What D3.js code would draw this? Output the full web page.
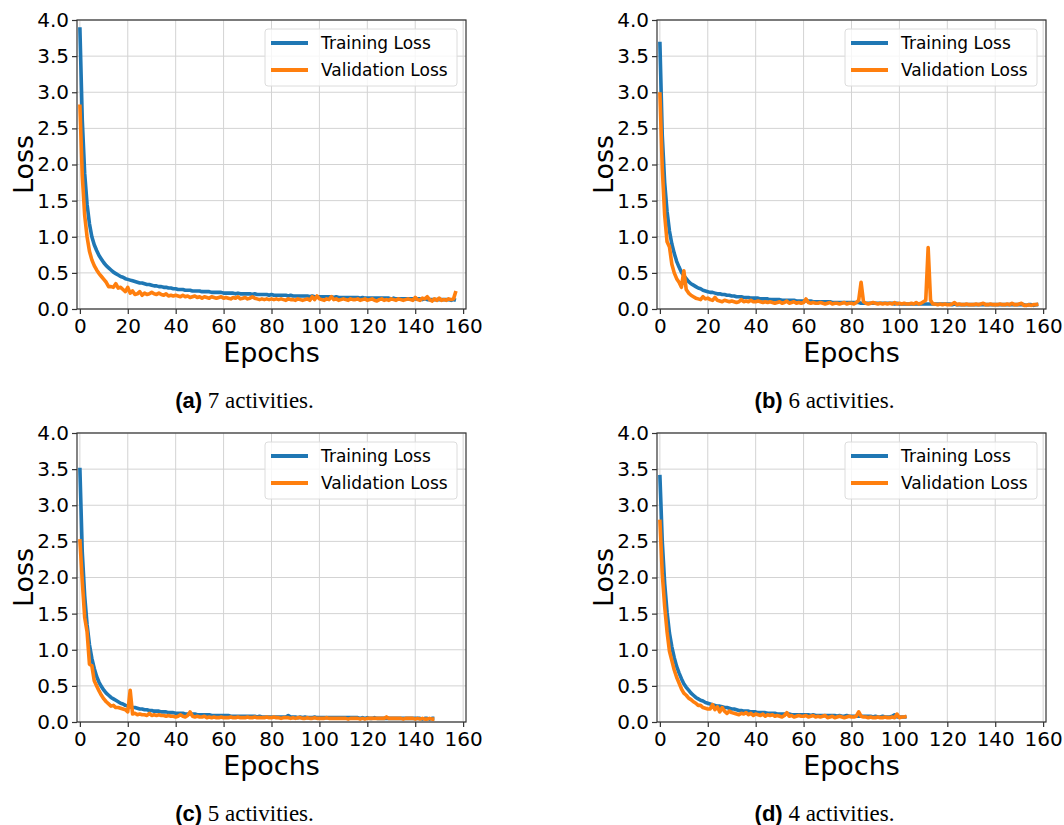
<!DOCTYPE html>
<html lang="en">
<head>
    <meta charset="UTF-8">
    <title>Training / Validation Loss</title>
    <script src="https://d3js.org/d3.v7.min.js"></script>
    <style>
        body { margin: 0; background: #fff; }
        .grid line { stroke: #d3d3d3; stroke-width: 1px; }
        .spine { fill: none; stroke: #333; stroke-width: 1.2px; }
        .tick-label { font-family: "DejaVu Sans", sans-serif; font-size: 20px; fill: #000; }
        .axis-label { font-family: "DejaVu Sans", sans-serif; font-size: 27px; fill: #000; }
        .legend-text { font-family: "DejaVu Sans", sans-serif; font-size: 17px; fill: #000; }
        .caption-key { font-family: "Liberation Sans", Arial, sans-serif; font-weight: bold; font-size: 22px; }
        .caption-txt { font-family: "Liberation Serif", "Times New Roman", serif; font-size: 23px; }
        .train { fill: none; stroke: #1f77b4; stroke-width: 3.6px; stroke-linejoin: round; }
        .val { fill: none; stroke: #ff7f0e; stroke-width: 3.6px; stroke-linejoin: round; }
    </style>
</head>
<body>
<svg width="1064" height="825"></svg>
<script>
// (a) 7 activities, epochs 0..157
const trainA = [3.90, 2.62, 1.88, 1.45, 1.18, 1.00, 0.89, 0.81, 0.74, 0.69, 0.64, 0.60, 0.57, 0.54, 0.51, 0.49, 0.47, 0.45, 0.44, 0.42, 0.41,
    0.40, 0.39, 0.38, 0.37, 0.36, 0.36, 0.35, 0.34, 0.34, 0.33, 0.32, 0.32, 0.31, 0.31, 0.30, 0.30, 0.29, 0.29, 0.28, 0.28,
    0.27, 0.27, 0.27, 0.26, 0.26, 0.26, 0.25, 0.25, 0.25, 0.25, 0.24, 0.24, 0.24, 0.24, 0.23, 0.23, 0.23, 0.23, 0.23, 0.22,
    0.22, 0.22, 0.22, 0.22, 0.21, 0.22, 0.21, 0.21, 0.21, 0.21, 0.21, 0.20, 0.21, 0.20, 0.20, 0.20, 0.20, 0.20, 0.19, 0.20,
    0.19, 0.19, 0.19, 0.19, 0.19, 0.19, 0.18, 0.19, 0.18, 0.18, 0.18, 0.18, 0.18, 0.18, 0.18, 0.17, 0.18, 0.17, 0.17, 0.17,
    0.17, 0.17, 0.17, 0.17, 0.17, 0.16, 0.17, 0.16, 0.16, 0.16, 0.16, 0.16, 0.16, 0.16, 0.16, 0.16, 0.15, 0.16, 0.15, 0.15,
    0.15, 0.15, 0.15, 0.15, 0.15, 0.15, 0.15, 0.15, 0.15, 0.14, 0.15, 0.14, 0.14, 0.14, 0.14, 0.14, 0.14, 0.14, 0.14, 0.14,
    0.14, 0.14, 0.13, 0.14, 0.13, 0.13, 0.13, 0.13, 0.13, 0.13, 0.13, 0.13, 0.13, 0.13, 0.12, 0.13, 0.12];
const valA = [2.83, 1.85, 1.30, 1.00, 0.80, 0.68, 0.60, 0.54, 0.49, 0.45, 0.41, 0.37, 0.31, 0.31, 0.30, 0.35, 0.29, 0.30, 0.27, 0.24, 0.30,
    0.22, 0.25, 0.20, 0.21, 0.24, 0.19, 0.22, 0.20, 0.21, 0.23, 0.21, 0.20, 0.22, 0.20, 0.19, 0.21, 0.18, 0.19, 0.18, 0.19,
    0.18, 0.17, 0.19, 0.17, 0.18, 0.16, 0.17, 0.18, 0.16, 0.17, 0.15, 0.17, 0.16, 0.15, 0.17, 0.16, 0.15, 0.16, 0.17, 0.15,
    0.16, 0.15, 0.14, 0.16, 0.15, 0.17, 0.14, 0.15, 0.16, 0.14, 0.15, 0.17, 0.15, 0.14, 0.13, 0.14, 0.13, 0.14, 0.13, 0.14,
    0.13, 0.14, 0.13, 0.14, 0.13, 0.12, 0.14, 0.13, 0.13, 0.12, 0.14, 0.13, 0.12, 0.13, 0.14, 0.12, 0.17, 0.13, 0.18, 0.14,
    0.13, 0.12, 0.14, 0.13, 0.17, 0.13, 0.14, 0.12, 0.13, 0.14, 0.13, 0.12, 0.14, 0.13, 0.13, 0.14, 0.12, 0.13, 0.14, 0.12,
    0.13, 0.14, 0.12, 0.11, 0.13, 0.14, 0.12, 0.13, 0.12, 0.14, 0.13, 0.12, 0.14, 0.13, 0.12, 0.13, 0.14, 0.13, 0.12, 0.16,
    0.13, 0.12, 0.15, 0.14, 0.17, 0.13, 0.11, 0.14, 0.12, 0.15, 0.12, 0.13, 0.12, 0.14, 0.13, 0.14, 0.25];

// (b) 6 activities, epochs 0..158
const trainB = [3.70, 2.40, 1.75, 1.35, 1.08, 0.90, 0.77, 0.66, 0.58, 0.51, 0.46, 0.42, 0.38, 0.35, 0.33, 0.31, 0.29, 0.28, 0.26, 0.25, 0.24,
    0.23, 0.23, 0.22, 0.21, 0.21, 0.20, 0.20, 0.19, 0.19, 0.18, 0.18, 0.17, 0.17, 0.17, 0.16, 0.16, 0.16, 0.15, 0.15, 0.15,
    0.15, 0.14, 0.14, 0.14, 0.14, 0.13, 0.13, 0.13, 0.13, 0.13, 0.12, 0.12, 0.12, 0.12, 0.12, 0.12, 0.11, 0.11, 0.11, 0.11,
    0.11, 0.11, 0.11, 0.10, 0.10, 0.10, 0.10, 0.10, 0.10, 0.10, 0.10, 0.09, 0.09, 0.09, 0.09, 0.09, 0.09, 0.09, 0.09, 0.09,
    0.09, 0.09, 0.09, 0.08, 0.08, 0.08, 0.08, 0.08, 0.08, 0.08, 0.08, 0.08, 0.08, 0.08, 0.08, 0.08, 0.08, 0.07, 0.08, 0.07,
    0.07, 0.07, 0.07, 0.07, 0.07, 0.07, 0.07, 0.07, 0.07, 0.07, 0.07, 0.07, 0.07, 0.07, 0.07, 0.07, 0.07, 0.07, 0.07, 0.07,
    0.07, 0.06, 0.07, 0.06, 0.06, 0.06, 0.06, 0.06, 0.06, 0.06, 0.06, 0.06, 0.06, 0.06, 0.06, 0.06, 0.06, 0.06, 0.06, 0.06,
    0.06, 0.06, 0.06, 0.06, 0.06, 0.06, 0.06, 0.06, 0.06, 0.06, 0.06, 0.06, 0.05, 0.06, 0.06, 0.05, 0.06, 0.06];
const valB = [3.00, 1.95, 1.30, 0.93, 0.86, 0.62, 0.50, 0.42, 0.37, 0.30, 0.53, 0.27, 0.22, 0.19, 0.17, 0.15, 0.14, 0.13, 0.17, 0.14, 0.15,
    0.13, 0.12, 0.16, 0.12, 0.11, 0.10, 0.12, 0.11, 0.10, 0.11, 0.10, 0.09, 0.10, 0.13, 0.10, 0.11, 0.10, 0.12, 0.10, 0.10,
    0.11, 0.10, 0.09, 0.10, 0.09, 0.10, 0.09, 0.08, 0.09, 0.10, 0.08, 0.09, 0.11, 0.08, 0.09, 0.10, 0.08, 0.09, 0.08, 0.09,
    0.14, 0.09, 0.08, 0.09, 0.08, 0.08, 0.09, 0.08, 0.07, 0.08, 0.09, 0.07, 0.08, 0.08, 0.07, 0.08, 0.09, 0.07, 0.08, 0.08,
    0.07, 0.09, 0.12, 0.37, 0.10, 0.08, 0.07, 0.08, 0.09, 0.08, 0.07, 0.08, 0.07, 0.08, 0.07, 0.08, 0.07, 0.09, 0.07, 0.08,
    0.07, 0.08, 0.07, 0.07, 0.08, 0.07, 0.09, 0.07, 0.08, 0.10, 0.12, 0.85, 0.12, 0.07, 0.07, 0.06, 0.07, 0.06, 0.07, 0.06,
    0.06, 0.07, 0.09, 0.06, 0.07, 0.06, 0.06, 0.07, 0.06, 0.06, 0.06, 0.07, 0.06, 0.07, 0.08, 0.06, 0.06, 0.07, 0.06, 0.06,
    0.06, 0.07, 0.06, 0.06, 0.07, 0.06, 0.08, 0.06, 0.06, 0.07, 0.08, 0.05, 0.05, 0.06, 0.05, 0.06, 0.06, 0.07];

// (c) 5 activities, epochs 0..148
const trainC = [3.52, 2.35, 1.75, 1.35, 1.07, 0.88, 0.74, 0.63, 0.55, 0.49, 0.44, 0.40, 0.37, 0.34, 0.32, 0.30, 0.28, 0.26, 0.25, 0.23, 0.22,
    0.21, 0.20, 0.20, 0.19, 0.18, 0.18, 0.17, 0.17, 0.16, 0.16, 0.15, 0.15, 0.15, 0.14, 0.14, 0.14, 0.13, 0.13, 0.13, 0.12,
    0.12, 0.12, 0.12, 0.11, 0.11, 0.11, 0.11, 0.11, 0.10, 0.10, 0.10, 0.10, 0.10, 0.10, 0.09, 0.09, 0.09, 0.09, 0.09, 0.09,
    0.09, 0.09, 0.08, 0.08, 0.08, 0.08, 0.08, 0.08, 0.08, 0.08, 0.08, 0.08, 0.08, 0.07, 0.08, 0.07, 0.07, 0.07, 0.07, 0.07,
    0.07, 0.07, 0.07, 0.07, 0.07, 0.07, 0.09, 0.07, 0.07, 0.07, 0.06, 0.07, 0.06, 0.07, 0.06, 0.06, 0.06, 0.07, 0.06, 0.06,
    0.06, 0.06, 0.06, 0.06, 0.06, 0.06, 0.06, 0.06, 0.06, 0.06, 0.06, 0.06, 0.06, 0.06, 0.06, 0.06, 0.05, 0.06, 0.05, 0.06,
    0.05, 0.05, 0.06, 0.05, 0.05, 0.05, 0.05, 0.05, 0.05, 0.05, 0.05, 0.05, 0.05, 0.05, 0.05, 0.05, 0.05, 0.05, 0.05, 0.05,
    0.05, 0.05, 0.04, 0.05, 0.05, 0.04, 0.05, 0.05];
const valC = [2.53, 1.95, 1.45, 1.25, 0.80, 0.78, 0.57, 0.50, 0.43, 0.37, 0.32, 0.28, 0.25, 0.22, 0.23, 0.20, 0.20, 0.19, 0.18, 0.17, 0.14,
    0.44, 0.11, 0.12, 0.10, 0.11, 0.10, 0.10, 0.09, 0.12, 0.09, 0.10, 0.09, 0.10, 0.09, 0.09, 0.08, 0.09, 0.08, 0.08, 0.07,
    0.08, 0.10, 0.08, 0.07, 0.09, 0.14, 0.08, 0.07, 0.08, 0.07, 0.07, 0.08, 0.06, 0.07, 0.06, 0.07, 0.06, 0.06, 0.07, 0.06,
    0.06, 0.06, 0.07, 0.06, 0.06, 0.07, 0.06, 0.06, 0.06, 0.07, 0.06, 0.06, 0.07, 0.06, 0.06, 0.06, 0.06, 0.07, 0.06, 0.06,
    0.07, 0.06, 0.06, 0.05, 0.06, 0.06, 0.06, 0.05, 0.06, 0.05, 0.06, 0.06, 0.05, 0.05, 0.06, 0.05, 0.05, 0.06, 0.05, 0.05,
    0.05, 0.05, 0.06, 0.05, 0.05, 0.05, 0.05, 0.05, 0.05, 0.05, 0.05, 0.04, 0.05, 0.05, 0.05, 0.05, 0.04, 0.05, 0.04, 0.05,
    0.05, 0.05, 0.05, 0.05, 0.05, 0.05, 0.05, 0.07, 0.05, 0.05, 0.05, 0.05, 0.05, 0.05, 0.04, 0.05, 0.05, 0.05, 0.05, 0.04,
    0.05, 0.04, 0.05, 0.04, 0.04, 0.05, 0.04, 0.04];

// (d) 4 activities, epochs 0..103
const trainD = [3.42, 2.50, 1.92, 1.52, 1.23, 1.04, 0.89, 0.77, 0.68, 0.60, 0.53, 0.48, 0.44, 0.40, 0.37, 0.34, 0.32, 0.30, 0.29, 0.27, 0.26,
    0.25, 0.24, 0.23, 0.22, 0.22, 0.21, 0.20, 0.20, 0.19, 0.18, 0.18, 0.17, 0.16, 0.16, 0.15, 0.15, 0.15, 0.14, 0.14, 0.14,
    0.13, 0.13, 0.13, 0.13, 0.12, 0.12, 0.12, 0.12, 0.11, 0.11, 0.11, 0.11, 0.11, 0.11, 0.10, 0.10, 0.10, 0.10, 0.10, 0.10,
    0.10, 0.10, 0.09, 0.10, 0.09, 0.09, 0.09, 0.09, 0.09, 0.09, 0.09, 0.09, 0.09, 0.08, 0.09, 0.08, 0.08, 0.09, 0.08, 0.08,
    0.08, 0.08, 0.08, 0.08, 0.08, 0.08, 0.08, 0.08, 0.07, 0.08, 0.07, 0.07, 0.08, 0.07, 0.07, 0.07, 0.08, 0.10, 0.07, 0.07,
    0.07, 0.07, 0.07];
const valD = [2.80, 2.05, 1.60, 1.25, 0.98, 0.85, 0.72, 0.62, 0.54, 0.46, 0.40, 0.37, 0.33, 0.31, 0.28, 0.26, 0.23, 0.23, 0.20, 0.19, 0.18,
    0.18, 0.24, 0.17, 0.21, 0.14, 0.20, 0.15, 0.12, 0.15, 0.13, 0.12, 0.11, 0.10, 0.12, 0.11, 0.13, 0.10, 0.12, 0.09, 0.11,
    0.10, 0.09, 0.11, 0.08, 0.10, 0.09, 0.10, 0.08, 0.09, 0.08, 0.07, 0.09, 0.13, 0.08, 0.09, 0.07, 0.08, 0.09, 0.08, 0.08,
    0.09, 0.07, 0.08, 0.09, 0.07, 0.08, 0.07, 0.08, 0.09, 0.06, 0.07, 0.08, 0.06, 0.07, 0.08, 0.07, 0.06, 0.07, 0.08, 0.07,
    0.07, 0.08, 0.14, 0.08, 0.07, 0.07, 0.06, 0.07, 0.06, 0.06, 0.07, 0.06, 0.06, 0.07, 0.06, 0.06, 0.07, 0.06, 0.11, 0.06,
    0.07, 0.07, 0.08];

const xTicks = [0, 20, 40, 60, 80, 100, 120, 140, 160];
const yTicks = [0.0, 0.5, 1.0, 1.5, 2.0, 2.5, 3.0, 3.5, 4.0];
const legendLabels = ["Training Loss", "Validation Loss"];

const panels = [
    { key: "(a)", text: " 7 activities.", train: trainA, val: valA, left: 77, top: 20 },
    { key: "(b)", text: " 6 activities.", train: trainB, val: valB, left: 657, top: 20 },
    { key: "(c)", text: " 5 activities.", train: trainC, val: valC, left: 77, top: 433 },
    { key: "(d)", text: " 4 activities.", train: trainD, val: valD, left: 657, top: 433 }
];

const plotW = 389, plotH = 289;
const svg = d3.select("svg");

panels.forEach(p => {
    const g = svg.append("g").attr("transform", `translate(${p.left},${p.top})`);

    const x = d3.scaleLinear().domain([-1.2, 161.2]).range([0, plotW]);
    const y = d3.scaleLinear().domain([0, 4]).range([plotH, 0]);

    // grid
    const grid = g.append("g").attr("class", "grid");
    grid.selectAll(".gx").data(xTicks).enter().append("line")
        .attr("x1", d => x(d)).attr("x2", d => x(d))
        .attr("y1", 0).attr("y2", plotH);
    grid.selectAll(".gy").data(yTicks).enter().append("line")
        .attr("x1", 0).attr("x2", plotW)
        .attr("y1", d => y(d)).attr("y2", d => y(d));

    // lines
    const line = d3.line().x((d, i) => x(i)).y(d => y(d));
    g.append("path").attr("class", "train").attr("d", line(p.train));
    g.append("path").attr("class", "val").attr("d", line(p.val));

    // spines
    g.append("rect").attr("class", "spine").attr("width", plotW).attr("height", plotH);

    // axes
    const xAxis = g.append("g").attr("transform", `translate(0,${plotH})`)
        .call(d3.axisBottom(x).tickValues(xTicks).tickSize(5).tickPadding(3));
    const yAxis = g.append("g")
        .call(d3.axisLeft(y).tickValues(yTicks).tickSize(5).tickPadding(3).tickFormat(d3.format(".1f")));
    [xAxis, yAxis].forEach(a => {
        a.select(".domain").remove();
        a.selectAll(".tick line").attr("stroke", "#333").attr("stroke-width", 1.2);
        a.selectAll(".tick text").attr("class", "tick-label").attr("fill", "#000");
    });
    xAxis.selectAll(".tick text").attr("dy", "0.8em");

    // axis labels
    g.append("text").attr("class", "axis-label")
        .attr("x", plotW / 2).attr("y", plotH + 53)
        .attr("text-anchor", "middle").text("Epochs");
    g.append("text").attr("class", "axis-label")
        .attr("transform", `translate(-44,${plotH / 2}) rotate(-90)`)
        .attr("text-anchor", "middle").text("Loss");

    // legend
    const lg = g.append("g").attr("transform", "translate(188,9)");
    lg.append("rect").attr("width", 192).attr("height", 57).attr("rx", 3)
        .attr("fill", "#fff").attr("fill-opacity", 0.8)
        .attr("stroke", "#dcdcdc").attr("stroke-width", 1);
    legendLabels.forEach((lab, i) => {
        const yy = 14 + i * 27;
        lg.append("line").attr("x1", 6).attr("x2", 43).attr("y1", yy).attr("y2", yy)
            .attr("stroke", i === 0 ? "#1f77b4" : "#ff7f0e").attr("stroke-width", 4);
        lg.append("text").attr("class", "legend-text")
            .attr("x", 56).attr("y", yy + 6).text(lab);
    });

    // caption
    const cap = g.append("text").attr("x", plotW / 2 - 27).attr("y", plotH + 99)
        .attr("text-anchor", "middle");
    cap.append("tspan").attr("class", "caption-key").text(p.key);
    cap.append("tspan").attr("class", "caption-txt").text(p.text);
});
</script>
</body>
</html>
